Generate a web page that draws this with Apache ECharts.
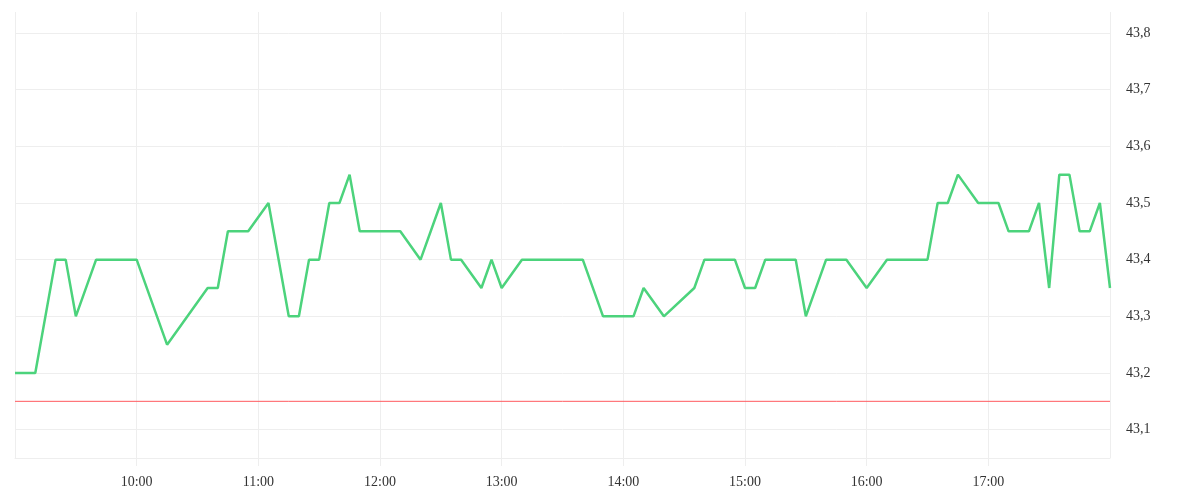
<!DOCTYPE html>
<html>
<head>
<meta charset="utf-8">
<script src="https://cdn.jsdelivr.net/npm/echarts@6/dist/echarts.min.js"></script>
<style>
html,body{margin:0;padding:0;background:#fff;}
#chart{width:1200px;height:500px;}
</style>
</head>
<body>
<div id="chart"></div>
<script>
const times = ["09:00","09:10","09:20","09:25","09:30","09:40","10:00","10:15","10:35","10:40","10:45","10:55",
  "11:05","11:15","11:20","11:25","11:30","11:35","11:40","11:45","11:50","12:10","12:20","12:30","12:35","12:40",
  "12:50","12:55","13:00","13:10","13:40","13:50","14:05","14:10","14:20","14:35","14:40","14:55","15:00","15:05",
  "15:10","15:25","15:30","15:40","15:50","16:00","16:10","16:30","16:35","16:40","16:45","16:55","17:05","17:10",
  "17:20","17:25","17:30","17:35","17:40","17:45","17:50","17:55","18:00"];
const prices = [43.2,43.2,43.4,43.4,43.3,43.4,43.4,43.25,43.35,43.35,43.45,43.45,
  43.5,43.3,43.3,43.4,43.4,43.5,43.5,43.55,43.45,43.45,43.4,43.5,43.4,43.4,
  43.35,43.4,43.35,43.4,43.4,43.3,43.3,43.35,43.3,43.35,43.4,43.4,43.35,43.35,
  43.4,43.4,43.3,43.4,43.4,43.35,43.4,43.4,43.5,43.5,43.55,43.5,43.5,43.45,
  43.45,43.5,43.35,43.55,43.55,43.45,43.45,43.5,43.35];
const refLevel = 43.15;
const xStart = "09:00", xEnd = "18:00";
const yMin = 43.05, yMax = 43.837;

function toMin(t){const p=t.split(':');return (+p[0])*60+(+p[1]);}
function fmtTime(m){const h=Math.floor(m/60),mm=m%60;return (h<10?'0':'')+h+':'+(mm<10?'0':'')+mm;}

const data = times.map((t,i)=>[toMin(t),prices[i]]);
const refData = [[toMin(xStart),refLevel],[toMin(xEnd),refLevel]];
const font = 'Liberation Serif';
const chart = echarts.init(document.getElementById('chart'));
chart.setOption({
  animation:false,
  backgroundColor:'#fff',
  grid:{left:15,right:90,top:12,bottom:42,containLabel:false},
  xAxis:{
    type:'value',min:toMin(xStart),max:toMin(xEnd),interval:60,
    axisLine:{show:true,lineStyle:{color:'#eeeeee'}},
    axisTick:{show:true,inside:false,length:8,lineStyle:{color:'#eeeeee',width:1}},
    splitLine:{show:true,lineStyle:{color:'#eeeeee',width:1}},
    axisLabel:{showMinLabel:false,showMaxLabel:false,margin:17,color:'#333',fontFamily:font,fontSize:14,
      formatter:v=>fmtTime(v)}
  },
  yAxis:{
    type:'value',position:'right',min:yMin,max:yMax,splitNumber:8,scale:true,
    axisLine:{show:false},axisTick:{show:false},
    splitLine:{show:true,showMaxLine:false,lineStyle:{color:'#eeeeee',width:1}},
    axisLabel:{showMinLabel:false,showMaxLabel:false,margin:16,color:'#333',fontFamily:font,fontSize:14,
      formatter:v=>v.toFixed(1).replace('.',',')}
  },
  series:[{
    type:'line',data:refData,showSymbol:false,symbol:'none',silent:true,
    lineStyle:{color:'#ff5a5f',width:1},itemStyle:{color:'#ff5a5f'},z:1
  },{
    type:'line',data:data,showSymbol:false,symbol:'none',
    lineStyle:{color:'#4cd37c',width:2.5},
    itemStyle:{color:'#4cd37c'},z:2
  }]
});
</script>
</body>
</html>
